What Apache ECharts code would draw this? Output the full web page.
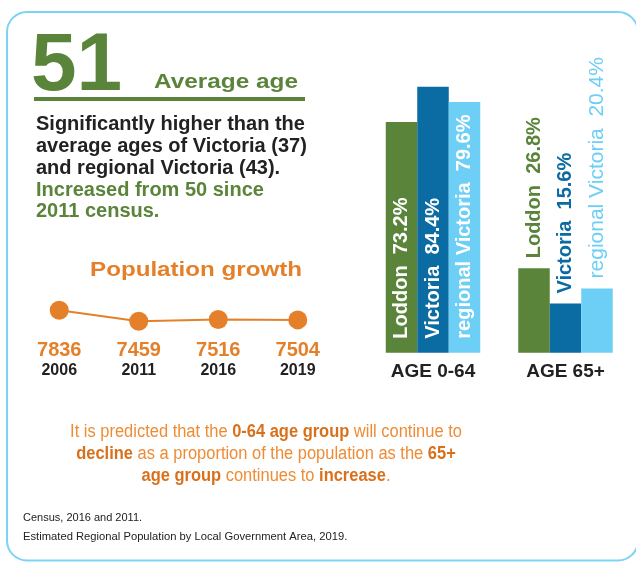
<!DOCTYPE html>
<html>
<head>
<meta charset="utf-8">
<script src="https://cdn.jsdelivr.net/npm/echarts@6/dist/echarts.min.js"></script>
<style>
html,body{margin:0;padding:0;background:#fff;}
#c{width:636px;height:562px;}
</style>
</head>
<body>
<div id="c"></div>
<script>
// ---- data ----
const years = ['2006', '2011', '2016', '2019'];
const population = [7836, 7459, 7516, 7504];
const ageGroups = ['AGE 0-64', 'AGE 65+'];
const seriesNames = ['Loddon', 'Victoria', 'regional Victoria'];
const loddon = [73.2, 26.8];
const victoria = [84.4, 15.6];
const regionalVic = [79.6, 20.4];
const averageAge = '51';

// ---- styles ----
const GREEN = '#5a843a';
const DBLUE = '#0b6ba3';
const LBLUE = '#6dcff6';
const ORANGE = '#e5802a';
const DARK = '#222222';
const FONT = "'Liberation Sans', Arial, sans-serif";

const chart = echarts.init(document.getElementById('c'), null, {renderer: 'canvas'});

function barSeries(name, values, color, bold65) {
  return {
    name: name,
    type: 'bar',
    xAxisIndex: 1,
    yAxisIndex: 1,
    barWidth: 31.5,
    barGap: '0%',
    itemStyle: {color: color},
    label: {
      show: true,
      formatter: p => p.seriesName + '  ' + p.value.toFixed(1) + '%',
      fontFamily: FONT,
      fontSize: 20,
      fontWeight: 'bold'
    },
    data: values.map((v, i) => i === 0 ? {
      value: v,
      label: {position: 'insideBottom', rotate: 90, align: 'left', verticalAlign: 'middle', distance: 14, color: '#ffffff'}
    } : {
      value: v,
      label: {position: 'top', rotate: 90, align: 'left', verticalAlign: 'middle', distance: 10, color: color,
              fontWeight: bold65 ? 'bold' : 'normal', fontSize: bold65 ? 20 : 21}
    })
  };
}

const paraLines = [
  {t: 'Significantly higher than the', c: DARK, y: 124},
  {t: 'average ages of Victoria (37)', c: DARK, y: 146},
  {t: 'and regional Victoria (43).', c: DARK, y: 168},
  {t: 'Increased from 50 since', c: GREEN, y: 190},
  {t: '2011 census.', c: GREEN, y: 211}
];

const richOrange = {
  n: {fontFamily: FONT, fontSize: 18, fill: '#ee8c35', fontWeight: 'normal'},
  b: {fontFamily: FONT, fontSize: 18, fill: '#d9711c', fontWeight: 'bold'}
};
const bottomLines = [
  {t: '{n|It is predicted that the }{b|0-64 age group}{n| will continue to}', y: 432},
  {t: '{b|decline}{n| as a proportion of the population as the }{b|65+}', y: 454},
  {t: '{b|age group}{n| continues to }{b|increase}{n|.}', y: 476}
];

const graphics = [
  {type: 'rect', shape: {x: 7, y: 12, width: 631, height: 548.5, r: 20},
   style: {fill: 'none', stroke: '#7dd3f6', lineWidth: 2}, silent: true},
  {type: 'text', x: 31, y: 67, style: {text: averageAge, font: 'bold 82px ' + FONT, fill: GREEN, align: 'left', verticalAlign: 'middle'}},
  {type: 'rect', shape: {x: 34, y: 97, width: 271, height: 4}, style: {fill: GREEN}},
  {type: 'text', x: 154, y: 82.5, scaleX: 1.16, style: {text: 'Average age', font: 'bold 21px ' + FONT, fill: GREEN, align: 'left', verticalAlign: 'middle'}},
  {type: 'text', x: 196, y: 270, scaleX: 1.15, style: {text: 'Population growth', font: 'bold 21px ' + FONT, fill: ORANGE, align: 'center', verticalAlign: 'middle'}},
  {type: 'text', x: 23, y: 518, style: {text: 'Census, 2016 and 2011.', font: '11px ' + FONT, fill: DARK, align: 'left', verticalAlign: 'middle'}},
  {type: 'text', x: 23, y: 537, scaleX: 1.02, style: {text: 'Estimated Regional Population by Local Government Area, 2019.', font: '11px ' + FONT, fill: DARK, align: 'left', verticalAlign: 'middle'}}
];
paraLines.forEach(l => graphics.push({
  type: 'text', x: 36, y: l.y,
  style: {text: l.t, font: 'bold 20px ' + FONT, fill: l.c, align: 'left', verticalAlign: 'middle'}
}));
bottomLines.forEach(l => graphics.push({
  type: 'text', x: 266, y: l.y, scaleX: 0.915,
  style: {text: l.t, rich: richOrange, align: 'center', verticalAlign: 'middle'}
}));

const option = {
  backgroundColor: '#ffffff',
  animation: false,
  grid: [
    {left: 19.5, top: 305.5, width: 318, height: 29},
    {left: 366.75, top: 37.7, width: 265, height: 315}
  ],
  xAxis: [
    {
      gridIndex: 0, type: 'category', data: years, boundaryGap: true,
      axisLine: {show: false}, axisTick: {show: false}, splitLine: {show: false},
      axisLabel: {
        interval: 0, margin: 6,
        formatter: (val, idx) => '{v|' + population[idx] + '}\n{y|' + val + '}',
        rich: {
          v: {fontFamily: FONT, fontSize: 20, fontWeight: 'bold', color: ORANGE, lineHeight: 20},
          y: {fontFamily: FONT, fontSize: 16, fontWeight: 'bold', color: DARK, lineHeight: 20}
        }
      }
    },
    {
      gridIndex: 1, type: 'category', data: ageGroups,
      axisLine: {show: false}, axisTick: {show: false}, splitLine: {show: false},
      axisLabel: {interval: 0, margin: 10, fontFamily: FONT, fontSize: 19, fontWeight: 'bold', color: DARK}
    }
  ],
  yAxis: [
    {gridIndex: 0, type: 'value', min: 7000, max: 8000, show: false, splitLine: {show: false}},
    {gridIndex: 1, type: 'value', min: 0, max: 100, show: false, splitLine: {show: false}}
  ],
  series: [
    {
      type: 'line', xAxisIndex: 0, yAxisIndex: 0, data: population,
      symbol: 'circle', symbolSize: 19,
      lineStyle: {color: ORANGE, width: 2},
      itemStyle: {color: ORANGE}
    },
    barSeries(seriesNames[0], loddon, GREEN, true),
    barSeries(seriesNames[1], victoria, DBLUE, true),
    barSeries(seriesNames[2], regionalVic, LBLUE, false)
  ],
  graphic: graphics
};
chart.setOption(option);
</script>
</body>
</html>
